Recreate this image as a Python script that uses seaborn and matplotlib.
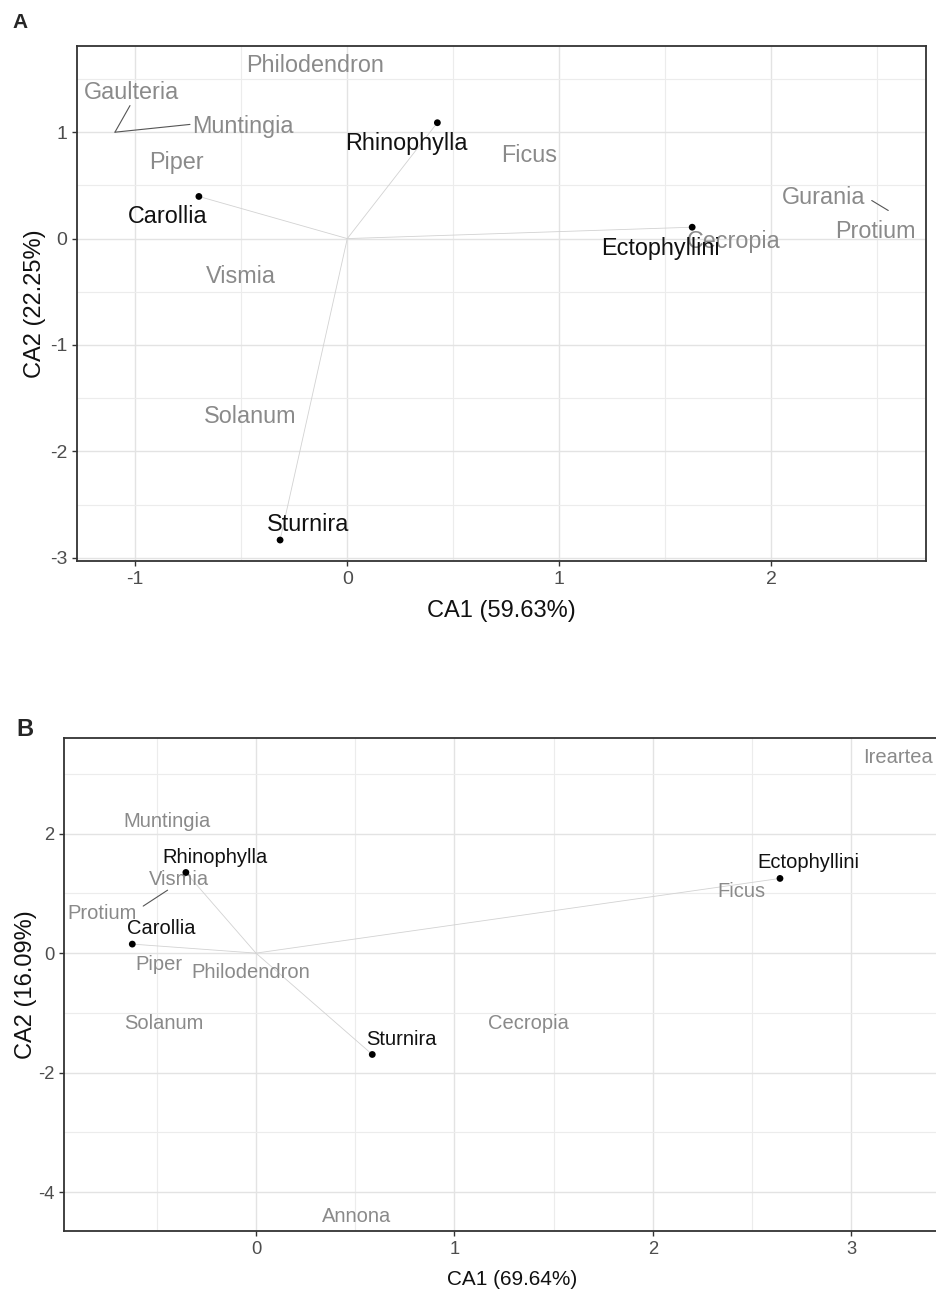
"""
CA biplots of bat genera vs plant genera (panels A and B)
"""

import matplotlib

matplotlib.use("Agg")
import matplotlib.pyplot as plt
from matplotlib import font_manager
from matplotlib.ticker import MultipleLocator
import seaborn as sns

# ---- panel A ----
a_bats = ["Rhinophylla", "Carollia", "Ectophyllini", "Sturnira"]
a_bat_x = [0.425, -0.70, 1.627, -0.317]
a_bat_y = [1.089, 0.396, 0.107, -2.833]
a_bat_lab_x = [0.277, -0.846, 1.479, -0.185]
a_bat_lab_y = [0.893, 0.208, -0.091, -2.69]

a_plants = ["Philodendron", "Gaulteria", "Muntingia", "Piper", "Ficus",
            "Gurania", "Protium", "Cecropia", "Vismia", "Solanum"]
a_plant_x = [-0.154, -1.017, -0.492, -0.808, 0.859, 2.249, 2.489, 1.821, -0.50, -0.458]
a_plant_y = [1.623, 1.377, 1.051, 0.711, 0.780, 0.390, 0.066, -0.031, -0.352, -1.673]

# repel leader segments: point -> label
a_seg_x0 = [-1.096, -1.096, 2.552]
a_seg_y0 = [1.0, 1.0, 0.264]
a_seg_x1 = [-1.025, -0.742, 2.474]
a_seg_y1 = [1.25, 1.073, 0.358]

# ---- panel B ----
b_bats = ["Rhinophylla", "Carollia", "Ectophyllini", "Sturnira"]
b_bat_x = [-0.353, -0.623, 2.640, 0.586]
b_bat_y = [1.35, 0.151, 1.25, -1.696]
b_bat_lab_x = [-0.204, -0.475, 2.782, 0.734]
b_bat_lab_y = [1.60, 0.413, 1.512, -1.445]

b_plants = ["Ireartea", "Muntingia", "Vismia", "Ficus", "Protium", "Piper",
            "Philodendron", "Solanum", "Cecropia", "Annona"]
b_plant_x = [3.236, -0.448, -0.39, 2.447, -0.775, -0.491, -0.028, -0.464, 1.375, 0.509]
b_plant_y = [3.27, 2.20, 1.233, 1.026, 0.664, -0.19, -0.323, -1.177, -1.17, -4.40]

b_seg_x0 = [-0.445]
b_seg_y0 = [1.054]
b_seg_x1 = [-0.568]
b_seg_y1 = [0.787]

sns.set_theme(style="white")
plt.rcParams["font.family"] = ["Liberation Sans", "DejaVu Sans"]
plt.rcParams["axes.unicode_minus"] = False

installed = {f.name for f in font_manager.fontManager.ttflist}
if "Liberation Sans Narrow" in installed:
    b_family = ["Liberation Sans Narrow", "Liberation Sans"]
    b_shrink = 1.0
else:
    b_family = ["Liberation Sans", "DejaVu Sans"]
    b_shrink = 0.88

BAT_COL = "#111111"
PLANT_COL = "#8a8a8a"
LINK_COL = "#d2d2d2"
FRAME_COL = "#333333"


def draw_panel(ax, bats, bx, by, blx, bly, plants, px, py, seg, xlim, ylim,
               xmajor, ymajor, lab_size, tick_size, family):
    ax.set_xlim(*xlim)
    ax.set_ylim(*ylim)
    ax.xaxis.set_major_locator(MultipleLocator(xmajor))
    ax.xaxis.set_minor_locator(MultipleLocator(xmajor / 2))
    ax.yaxis.set_major_locator(MultipleLocator(ymajor))
    ax.yaxis.set_minor_locator(MultipleLocator(ymajor / 2))
    ax.grid(which="major", color="#e3e3e3", lw=1.0)
    ax.grid(which="minor", color="#ececec", lw=0.8)
    ax.set_axisbelow(True)

    # links from origin to each bat
    for x, y in zip(bx, by):
        ax.plot([0, x], [0, y], color=LINK_COL, lw=0.6, zorder=2)

    sns.scatterplot(x=bx, y=by, color="black", s=24, edgecolor="none",
                    ax=ax, zorder=4, legend=False)

    for name, x, y in zip(bats, blx, bly):
        ax.text(x, y, name, color=BAT_COL, fontsize=lab_size, family=family,
                ha="center", va="center", zorder=5)
    for name, x, y in zip(plants, px, py):
        ax.text(x, y, name, color=PLANT_COL, fontsize=lab_size, family=family,
                ha="center", va="center", zorder=3)
    for x0, y0, x1, y1 in zip(*seg):
        ax.plot([x0, x1], [y0, y1], color="#555555", lw=0.8, zorder=3)

    for s in ax.spines.values():
        s.set_color(FRAME_COL)
        s.set_linewidth(1.3)
    ax.tick_params(which="major", direction="out", length=3.5, width=1.0,
                   color=FRAME_COL, labelcolor="#4d4d4d", labelsize=tick_size,
                   pad=3.5, bottom=True, left=True)
    ax.tick_params(which="minor", length=0)
    for t in ax.get_xticklabels() + ax.get_yticklabels():
        t.set_family(family)


W, H = 936, 1292
fig = plt.figure(figsize=(W / 100, H / 100), dpi=100)

# panel A
ax_a = fig.add_axes([77 / W, 1 - 561 / H, 849 / W, 515 / H])
draw_panel(ax_a, a_bats, a_bat_x, a_bat_y, a_bat_lab_x, a_bat_lab_y,
           a_plants, a_plant_x, a_plant_y,
           (a_seg_x0, a_seg_y0, a_seg_x1, a_seg_y1),
           (-1.275, 2.73), (-3.03, 1.81), 1, 1, 16.8, 14,
           ["Liberation Sans", "DejaVu Sans"])
ax_a.set_xlabel("CA1 (59.63%)", fontsize=17, color="#111111", labelpad=9)
ax_a.set_ylabel("CA2 (22.25%)", fontsize=17, color="#111111", labelpad=3)

# panel B (right edge runs off the figure)
b_xlim = (-0.967, 3.55)
ax_b = fig.add_axes([64 / W, 1 - 1231 / H, (b_xlim[1] - b_xlim[0]) * 198.5 / W, 493 / H])
draw_panel(ax_b, b_bats, b_bat_x, b_bat_y, b_bat_lab_x, b_bat_lab_y,
           b_plants, b_plant_x, b_plant_y,
           (b_seg_x0, b_seg_y0, b_seg_x1, b_seg_y1),
           b_xlim, (-4.65, 3.60), 1, 2, 16.5 * b_shrink, 15 * b_shrink, b_family)
ax_b.set_xlabel("CA1 (69.64%)", fontsize=17 * b_shrink, family=b_family,
                color="#111111", labelpad=9)
ax_b.set_ylabel("CA2 (16.09%)", fontsize=17, color="#111111", labelpad=1)

fig.text(12 / W, 1 - 22 / H, "A", fontsize=15, fontweight="bold", ha="left", va="center")
fig.text(16 / W, 1 - 729 / H, "B", fontsize=17, fontweight="bold", ha="left", va="center",
         family=b_family)

fig.savefig("out.png", dpi=100, facecolor="white")
